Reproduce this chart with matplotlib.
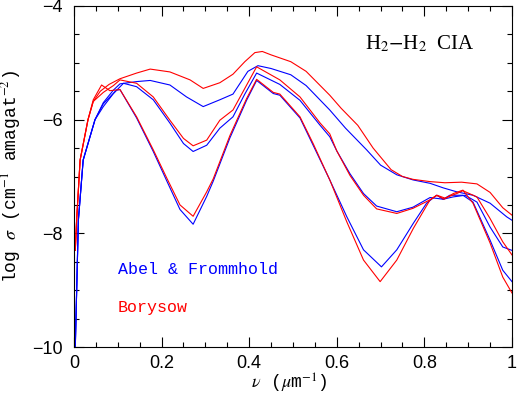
import numpy as np
import matplotlib
matplotlib.use("Agg")
import matplotlib.pyplot as plt
from matplotlib.ticker import MultipleLocator

plt.rcParams['mathtext.fontset'] = 'stix'
plt.rcParams['font.family'] = ['Liberation Mono', 'DejaVu Sans']

# Borysow (red) curves, top / middle / bottom
nu_r1 = [0.003, 0.006, 0.014, 0.032, 0.044, 0.06, 0.08, 0.105, 0.143, 0.174, 0.219, 0.265, 0.295, 0.333,
         0.363, 0.39, 0.413, 0.43, 0.45, 0.495, 0.53, 0.584, 0.61, 0.648, 0.683, 0.724, 0.75, 0.774, 0.813,
         0.847, 0.885, 0.92, 0.95, 0.979, 1.0]
lg_r1 = [-8.3, -7.77, -6.71, -6.0, -5.68, -5.5, -5.38, -5.28, -5.18, -5.11, -5.16, -5.30, -5.45, -5.35,
         -5.20, -4.98, -4.82, -4.80, -4.86, -4.98, -5.15, -5.57, -5.80, -6.10, -6.50, -6.88, -7.0, -7.05, -7.09,
         -7.11, -7.10, -7.13, -7.28, -7.55, -7.68]

nu_r2 = [0.003, 0.006, 0.014, 0.032, 0.044, 0.067, 0.09, 0.105, 0.143, 0.181, 0.219, 0.25, 0.272, 0.303,
         0.333, 0.363, 0.39, 0.417, 0.47, 0.516, 0.562, 0.584, 0.60, 0.63, 0.661, 0.691, 0.737, 0.774, 0.813,
         0.829, 0.847, 0.874, 0.888, 0.92, 0.95, 0.979, 1.0]
lg_r2 = [-8.3, -7.77, -6.71, -6.0, -5.68, -5.52, -5.40, -5.30, -5.36, -5.60, -6.01, -6.33, -6.46, -6.36,
         -6.01, -5.83, -5.45, -5.07, -5.30, -5.60, -6.06, -6.25, -6.55, -6.98, -7.33, -7.57, -7.65, -7.56, -7.41,
         -7.33, -7.38, -7.30, -7.25, -7.36, -7.74, -8.15, -8.38]

nu_r3 = [0.003, 0.006, 0.014, 0.032, 0.044, 0.063, 0.082, 0.105, 0.143, 0.181, 0.212, 0.242, 0.272, 0.303,
         0.318, 0.356, 0.394, 0.417, 0.455, 0.47, 0.516, 0.546, 0.584, 0.623, 0.661, 0.699, 0.737, 0.775,
         0.813, 0.828, 0.845, 0.866, 0.888, 0.911, 0.95, 0.979, 1.0]
lg_r3 = [-8.3, -7.77, -6.71, -6.0, -5.65, -5.39, -5.49, -5.47, -5.95, -6.53, -7.03, -7.50, -7.70, -7.27,
         -7.04, -6.28, -5.63, -5.29, -5.52, -5.55, -5.95, -6.42, -7.06, -7.80, -8.47, -8.85, -8.47, -7.91,
         -7.41, -7.33, -7.40, -7.30, -7.24, -7.47, -8.17, -8.77, -9.05]

# Abel & Frommhold (blue) curves, top / middle / bottom
nu_b1 = [0.003, 0.010, 0.021, 0.048, 0.067, 0.09, 0.105, 0.143, 0.174, 0.219, 0.257, 0.295, 0.333, 0.363,
         0.397, 0.42, 0.45, 0.495, 0.53, 0.584, 0.62, 0.668, 0.70, 0.737, 0.774, 0.813, 0.843, 0.874, 0.911,
         0.95, 0.988, 1.0]
lg_b1 = [-10.0, -7.77, -6.71, -6.0, -5.70, -5.48, -5.37, -5.33, -5.31, -5.39, -5.60, -5.77, -5.65, -5.55,
         -5.15, -5.05, -5.10, -5.21, -5.40, -5.83, -6.15, -6.53, -6.80, -6.97, -7.06, -7.12, -7.20, -7.27, -7.33,
         -7.47, -7.71, -7.77]

nu_b2 = [0.003, 0.010, 0.021, 0.048, 0.067, 0.09, 0.113, 0.143, 0.181, 0.219, 0.25, 0.272, 0.303, 0.333,
         0.363, 0.39, 0.417, 0.47, 0.516, 0.562, 0.584, 0.60, 0.63, 0.661, 0.691, 0.737, 0.774, 0.813, 0.843,
         0.865, 0.893, 0.92, 0.95, 0.979, 1.0]
lg_b2 = [-10.0, -7.77, -6.71, -6.0, -5.77, -5.54, -5.36, -5.42, -5.65, -6.06, -6.42, -6.56, -6.45, -6.15,
         -5.95, -5.55, -5.18, -5.38, -5.66, -6.10, -6.30, -6.55, -6.95, -7.30, -7.52, -7.62, -7.54, -7.37, -7.40,
         -7.36, -7.33, -7.45, -7.89, -8.24, -8.30]

nu_b3 = [0.003, 0.010, 0.021, 0.048, 0.067, 0.097, 0.105, 0.143, 0.181, 0.212, 0.242, 0.272, 0.303,
         0.318, 0.356, 0.394, 0.417, 0.455, 0.47, 0.516, 0.546, 0.584, 0.623, 0.661, 0.702, 0.737, 0.775,
         0.805, 0.828, 0.843, 0.858, 0.888, 0.911, 0.95, 0.979, 1.0]
lg_b3 = [-10.0, -7.77, -6.71, -6.0, -5.72, -5.48, -5.47, -5.97, -6.56, -7.08, -7.58, -7.84, -7.35,
         -7.08, -6.32, -5.66, -5.31, -5.54, -5.57, -5.97, -6.45, -7.06, -7.71, -8.29, -8.59, -8.29, -7.82,
         -7.47, -7.33, -7.40, -7.33, -7.33, -7.45, -8.12, -8.65, -8.85]

fig = plt.figure(figsize=(5.17, 4.0), dpi=100)
ax = fig.add_axes([0.1431, 0.1325, 0.8472, 0.8525])

for nu, lg in [(nu_b1, lg_b1), (nu_b2, lg_b2), (nu_b3, lg_b3)]:
    ax.plot(nu, lg, color='#0000ff', lw=0.8)
for nu, lg in [(nu_r1, lg_r1), (nu_r2, lg_r2), (nu_r3, lg_r3)]:
    ax.plot(nu, lg, color='#ff0000', lw=0.8)

ax.set_xlim(0, 1)
ax.set_ylim(-10, -4)
ax.xaxis.set_minor_locator(MultipleLocator(0.05))
ax.yaxis.set_minor_locator(MultipleLocator(0.5))
ax.set_xticks([0, 0.2, 0.4, 0.6, 0.8, 1.0])
ax.set_xticklabels(['0', '0.2', '0.4', '0.6', '0.8', '1'])
ax.set_yticks([-10, -8, -6, -4])
ax.set_yticklabels(['\u221210', '\u22128', '\u22126', '\u22124'])
ax.tick_params(which='both', direction='in', top=True, right=True, width=0.8)
ax.tick_params(which='major', length=7, labelsize=13, pad=6)
ax.tick_params(axis='y', which='major', pad=8)
ax.tick_params(which='minor', length=3.5)
for lab in ax.get_xticklabels() + ax.get_yticklabels():
    lab.set_family('Liberation Sans')
for s in ax.spines.values():
    s.set_linewidth(0.8)

ax.set_xlabel(r'$\nu$ ($\mu$m$^{-1}$)', fontsize=13)
ax.set_ylabel(r'log $\sigma$ (cm$^{-1}$ amagat$^{-2}$)', fontsize=13)
ax.xaxis.set_label_coords(0.49, -0.072)
ax.yaxis.set_label_coords(-0.117, 0.5)

ax.text(0.664, -4.67, r'H$_2$$-$H$_2$  CIA', fontsize=15, family='Liberation Serif', va='center')
ax.text(0.10, -8.63, 'Abel & Frommhold', color='#0000ff', fontsize=12, va='center')
ax.text(0.10, -9.31, 'Borysow', color='#ff0000', fontsize=12, va='center')

fig.savefig('out.png', dpi=100)
